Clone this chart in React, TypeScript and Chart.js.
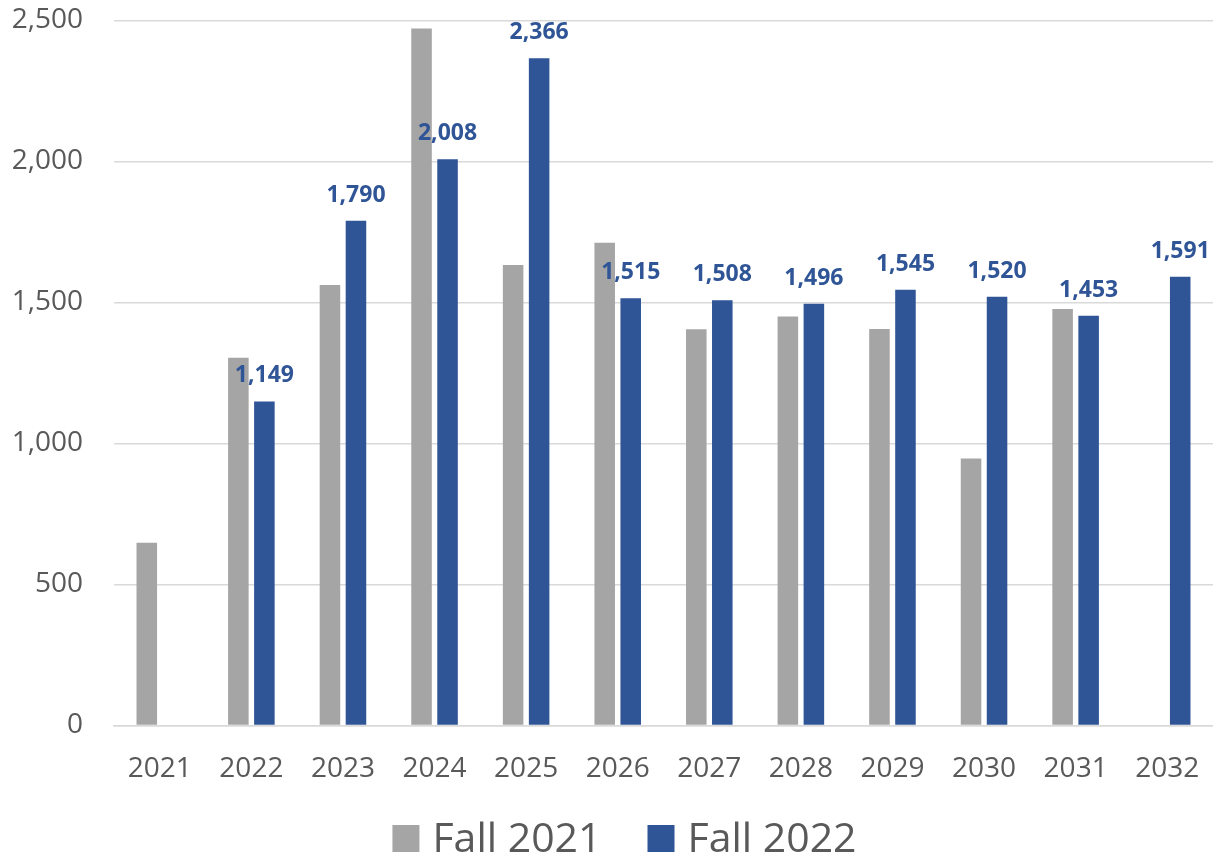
import React, { useEffect, useRef } from "react";
import { Chart, registerables } from "chart.js";

Chart.register(...registerables);

const categories = ["2021", "2022", "2023", "2024", "2025", "2026", "2027", "2028", "2029", "2030", "2031", "2032"];
const fall2021 = [648, 1304, 1562, 2472, 1633, 1712, 1405, 1450, 1406, 947, 1477, null];
const fall2022 = [null, 1149, 1790, 2008, 2366, 1515, 1508, 1496, 1545, 1520, 1453, 1591];
const seriesNames = ["Fall 2021", "Fall 2022"];
const yTicks = [0, 500, 1000, 1500, 2000, 2500];

const GRAY = "#A5A5A5";
const BLUE = "#2F5597";
const TEXT = "#595959";
const FONT = "'Open Sans', 'Liberation Sans', sans-serif";

const fmt = (v: number) => v.toLocaleString("en-US");

const labelPlugin = {
  id: "blueLabels",
  afterDatasetsDraw(chart: any) {
    const ctx = chart.ctx;
    const meta = chart.getDatasetMeta(1);
    ctx.save();
    ctx.font = `bold 23px ${FONT}`;
    ctx.fillStyle = BLUE;
    ctx.textAlign = "center";
    ctx.textBaseline = "alphabetic";
    meta.data.forEach((bar: any, i: number) => {
      const v = fall2022[i];
      if (v == null) return;
      ctx.fillText(fmt(v), bar.x, bar.y - 19);
    });
    ctx.restore();
  },
};

const legendPlugin = {
  id: "bottomLegend",
  afterDraw(chart: any) {
    const ctx = chart.ctx;
    const colors = chart.data.datasets.map((d: any) => d.backgroundColor);
    const names = chart.data.datasets.map((d: any) => d.label);
    const box = 27, gapText = 13, gapItem = 46;
    ctx.save();
    ctx.font = `41px ${FONT}`;
    const widths = names.map((n: string) => ctx.measureText(n).width);
    const total = widths.reduce((a: number, w: number) => a + box + gapText + w, 0) + gapItem * (names.length - 1);
    let x = chart.width / 2 + 18 - total / 2;
    const baseY = chart.height - 4;
    ctx.textBaseline = "alphabetic";
    ctx.textAlign = "left";
    names.forEach((n: string, i: number) => {
      ctx.fillStyle = colors[i];
      ctx.fillRect(x, baseY - box, box, box);
      x += box + gapText;
      ctx.fillStyle = TEXT;
      ctx.fillText(n, x, baseY);
      x += widths[i] + gapItem;
    });
    ctx.restore();
  },
};

export default function App() {
  const ref = useRef<HTMLCanvasElement>(null);
  useEffect(() => {
    document.body.style.margin = "0";
    const chart = new Chart(ref.current!, {
      type: "bar",
      data: {
        labels: categories,
        datasets: [
          { label: seriesNames[0], data: fall2021, backgroundColor: GRAY, barPercentage: 0.79, categoryPercentage: 0.568 },
          { label: seriesNames[1], data: fall2022, backgroundColor: BLUE, barPercentage: 0.79, categoryPercentage: 0.568 },
        ],
      },
      options: {
        animation: false,
        responsive: false,
        maintainAspectRatio: false,
        layout: { padding: { top: 20.5, right: 0, left: 0, bottom: 70.5 } },
        plugins: {
          tooltip: { enabled: false },
          legend: { display: false },
        },
        scales: {
          x: {
            afterFit: (s: any) => { s.height = 60; },
            grid: { display: true, color: "rgba(0,0,0,0)", drawTicks: true, tickLength: 26.5, tickColor: "rgba(0,0,0,0)" },
            border: { display: true, color: "#D9D9D9", width: 1.5 },
            ticks: { font: { family: FONT, size: 28 }, color: TEXT, padding: 0 },
          },
          y: {
            min: 0,
            max: 2500,
            afterFit: (s: any) => { s.width = 114; },
            afterBuildTicks: (s: any) => { s.ticks = yTicks.map((v) => ({ value: v })); },
            grid: { color: "#D9D9D9", lineWidth: 1.5, drawTicks: true, tickLength: 31, tickColor: "rgba(0,0,0,0)" },
            border: { display: false },
            ticks: {
              font: { family: FONT, size: 28 },
              color: TEXT,
              padding: 0,
              callback: (v: any) => fmt(Number(v)),
            },
          },
        },
      },
      plugins: [labelPlugin, legendPlugin],
    });
    return () => chart.destroy();
  }, []);
  return (
    <div style={{ width: 1213, height: 856 }}>
      <canvas ref={ref} width={1213} height={856} style={{ width: 1213, height: 856, display: "block" }} />
    </div>
  );
}
